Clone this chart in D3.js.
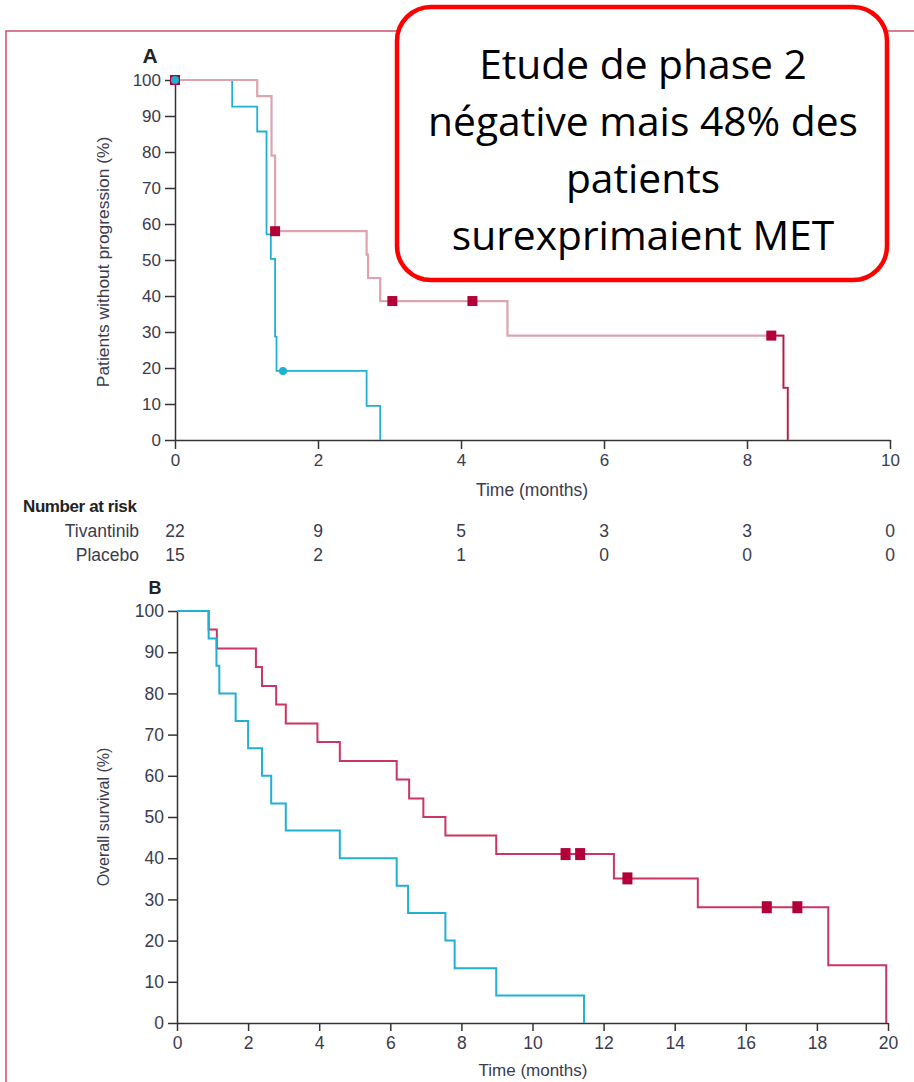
<!DOCTYPE html>
<html>
<head>
<meta charset="utf-8">
<script src="https://cdn.jsdelivr.net/npm/d3@7"></script>
<style>
  body { margin: 0; background: #fff; }
  svg { display: block; }
</style>
</head>
<body>
<div id="chart"></div>
<script>
// Panel A - progression-free survival, step points [months, %]
const pfsTivantinib = [[0,100],[1.15,95.5],[1.35,79],[1.40,58],[2.68,51.5],[2.70,45],[2.87,38.6],[4.65,29],[8.51,14.5],[8.57,0]];
const pfsPlacebo = [[0,100],[0.80,92.6],[1.15,85.7],[1.28,57.1],[1.34,50.3],[1.40,28.7],[1.42,19.2],[2.68,9.5],[2.87,0]];
const pfsTivCensor = [[0,100],[1.40,58],[3.04,38.6],[4.16,38.6],[8.34,29]];
const pfsPlaCensor = [[0,100],[1.51,19.2]];
const pfsTivDarkFrom = 8.34;

// Number at risk under panel A
const atRiskTimes = [0,2,4,6,8,10];
const atRiskTivantinib = [22,9,5,3,3,0];
const atRiskPlacebo = [15,2,1,0,0,0];

// Panel B - overall survival
const osTivantinib = [[0,100],[0.89,95.5],[1.12,90.9],[2.22,86.4],[2.39,81.8],[2.79,77.3],[3.06,72.7],[3.95,68.2],[4.58,63.6],[6.18,59.1],[6.53,54.5],[6.93,50],[7.55,45.5],[8.98,41],[12.29,35.1],[14.65,28.1],[18.32,14],[19.95,0]];
const osPlacebo = [[0,100],[0.89,93.3],[1.11,86.7],[1.19,80],[1.65,73.3],[2.0,66.7],[2.39,60],[2.65,53.3],[3.06,46.7],[4.58,40],[6.18,33.3],[6.5,26.7],[7.55,20],[7.81,13.3],[8.98,6.7],[11.45,0]];
const osTivCensor = [[10.93,41],[11.34,41],[12.67,35.1],[16.59,28.1],[17.45,28.1]];

const pfsXTicks = [0,2,4,6,8,10];
const osXTicks = [0,2,4,6,8,10,12,14,16,18,20];
const yTicks = [0,10,20,30,40,50,60,70,80,90,100];

const noteLines = ["Etude de phase 2", "négative mais 48% des", "patients", "surexprimaient MET"];

const width = 914, height = 1082;
const blue = "#1fb0d4", pink = "#dba4ae", crimson = "#c2123f", osRed = "#cc3461", markRed = "#b1003a";
const axisColor = "#333", textColor = "#3b3b4e";
const font = "'Liberation Sans', Arial, sans-serif";

const svg = d3.select("#chart").append("svg")
    .attr("width", width).attr("height", height)
    .style("font-family", font);
svg.append("rect").attr("width", width).attr("height", height).attr("fill", "#fff");

// page frame
svg.append("path")
    .attr("d", `M6,${height} V31 H${width}`)
    .attr("fill", "none").attr("stroke", "#c9506e").attr("stroke-width", 1.5);

function styleAxis(g, size) {
    g.select(".domain").attr("stroke", axisColor).attr("stroke-width", 1.5);
    g.selectAll(".tick line").attr("stroke", axisColor).attr("stroke-width", 1.5);
    g.selectAll(".tick text").attr("fill", textColor).style("font-size", size + "px").style("font-family", font);
}

function stepLine(x, y) {
    return d3.line().x(d => x(d[0])).y(d => y(d[1])).curve(d3.curveStepAfter);
}

// ---------- Panel A ----------
const xA = d3.scaleLinear().domain([0, 10]).range([175, 890]);
const yA = d3.scaleLinear().domain([0, 100]).range([440, 80]);

svg.append("g").attr("transform", "translate(0,440)")
    .call(d3.axisBottom(xA).tickValues(pfsXTicks).tickSize(9).tickPadding(5).tickSizeOuter(0))
    .call(styleAxis, 17);
svg.append("g").attr("transform", "translate(175,0)")
    .call(d3.axisLeft(yA).tickValues(yTicks).tickSize(10).tickPadding(4).tickSizeOuter(0))
    .call(styleAxis, 17);

const lineA = stepLine(xA, yA);
svg.append("path").datum(pfsPlacebo).attr("d", lineA)
    .attr("fill", "none").attr("stroke", blue).attr("stroke-width", 1.8);
svg.append("path").datum(pfsTivantinib).attr("d", lineA)
    .attr("fill", "none").attr("stroke", pink).attr("stroke-width", 2.2);

// dark tail of the tivantinib curve
const tail = [[pfsTivDarkFrom, pfsTivantinib.filter(d => d[0] <= pfsTivDarkFrom).slice(-1)[0][1]]]
    .concat(pfsTivantinib.filter(d => d[0] > pfsTivDarkFrom));
svg.append("path").datum(tail).attr("d", lineA)
    .attr("fill", "none").attr("stroke", crimson).attr("stroke-width", 1.6);

svg.selectAll(".censA").data(pfsTivCensor).enter().append("rect")
    .attr("x", d => xA(d[0]) - 5).attr("y", d => yA(d[1]) - 5)
    .attr("width", 10).attr("height", 10).attr("fill", markRed);
svg.selectAll(".censAp").data(pfsPlaCensor).enter().append("circle")
    .attr("cx", d => xA(d[0])).attr("cy", d => yA(d[1])).attr("r", 4).attr("fill", blue);

svg.append("text").attr("x", 150).attr("y", 63).attr("text-anchor", "middle")
    .attr("font-weight", "bold").attr("font-size", 21).attr("fill", "#222").text("A");
svg.append("text").attr("transform", "translate(109,262) rotate(-90)")
    .attr("text-anchor", "middle").attr("font-size", 17.4).attr("fill", textColor)
    .text("Patients without progression (%)");
svg.append("text").attr("x", 532).attr("y", 496).attr("text-anchor", "middle")
    .attr("font-size", 17.5).attr("fill", textColor).text("Time (months)");

// number at risk
svg.append("text").attr("x", 23).attr("y", 512).attr("font-weight", "bold")
    .attr("font-size", 17).attr("fill", "#222").attr("letter-spacing", -0.4).text("Number at risk");
[["Tivantinib", atRiskTivantinib, 537], ["Placebo", atRiskPlacebo, 561]].forEach(([name, vals, yy]) => {
    svg.append("text").attr("x", 139).attr("y", yy).attr("text-anchor", "end")
        .attr("font-size", 17.5).attr("fill", textColor).text(name);
    svg.selectAll(null).data(vals).enter().append("text")
        .attr("x", (d, i) => xA(atRiskTimes[i])).attr("y", yy).attr("text-anchor", "middle")
        .attr("font-size", 17.5).attr("fill", textColor).text(d => d);
});

// ---------- Panel B ----------
const xB = d3.scaleLinear().domain([0, 20]).range([177, 888]);
const yB = d3.scaleLinear().domain([0, 100]).range([1023, 611]);

svg.append("g").attr("transform", "translate(0,1023)")
    .call(d3.axisBottom(xB).tickValues(osXTicks).tickSize(8).tickPadding(6).tickSizeOuter(0))
    .call(styleAxis, 17.5);
svg.append("g").attr("transform", "translate(177,0)")
    .call(d3.axisLeft(yB).tickValues(yTicks).tickSize(9).tickPadding(4).tickSizeOuter(0))
    .call(styleAxis, 17.5);

const lineB = stepLine(xB, yB);
svg.append("path").datum(osTivantinib).attr("d", lineB)
    .attr("fill", "none").attr("stroke", osRed).attr("stroke-width", 2);
svg.append("path").datum(osPlacebo).attr("d", lineB)
    .attr("fill", "none").attr("stroke", blue).attr("stroke-width", 2);
svg.selectAll(".censB").data(osTivCensor).enter().append("rect")
    .attr("x", d => xB(d[0]) - 5).attr("y", d => yB(d[1]) - 6)
    .attr("width", 10).attr("height", 12).attr("fill", markRed);

svg.append("text").attr("x", 155).attr("y", 594).attr("text-anchor", "middle")
    .attr("font-weight", "bold").attr("font-size", 18).attr("fill", "#222").text("B");
svg.append("text").attr("transform", "translate(109,817) rotate(-90)")
    .attr("text-anchor", "middle").attr("font-size", 16).attr("fill", textColor)
    .text("Overall survival (%)");
svg.append("text").attr("x", 533).attr("y", 1076).attr("text-anchor", "middle")
    .attr("font-size", 17).attr("fill", textColor).text("Time (months)");

// ---------- annotation box ----------
svg.append("rect").attr("x", 397).attr("y", 7).attr("width", 490).attr("height", 273)
    .attr("rx", 34).attr("fill", "#fff").attr("stroke", "#ff0000").attr("stroke-width", 4.5);
const noteBase = [79, 136, 193, 250];
const note = svg.selectAll(".note").data(noteLines).enter().append("text")
    .attr("x", 643).attr("y", (d, i) => noteBase[i]).attr("text-anchor", "middle")
    .attr("fill", "#000").style("font-family", "'Open Sans', 'Noto Sans', sans-serif")
    .attr("font-size", 40).text(d => d);
// fit the widest line to the picture's width
const w = note.filter((d, i) => i === 1).node().getComputedTextLength();
note.attr("font-size", 40 * 430 / w);
</script>
</body>
</html>
